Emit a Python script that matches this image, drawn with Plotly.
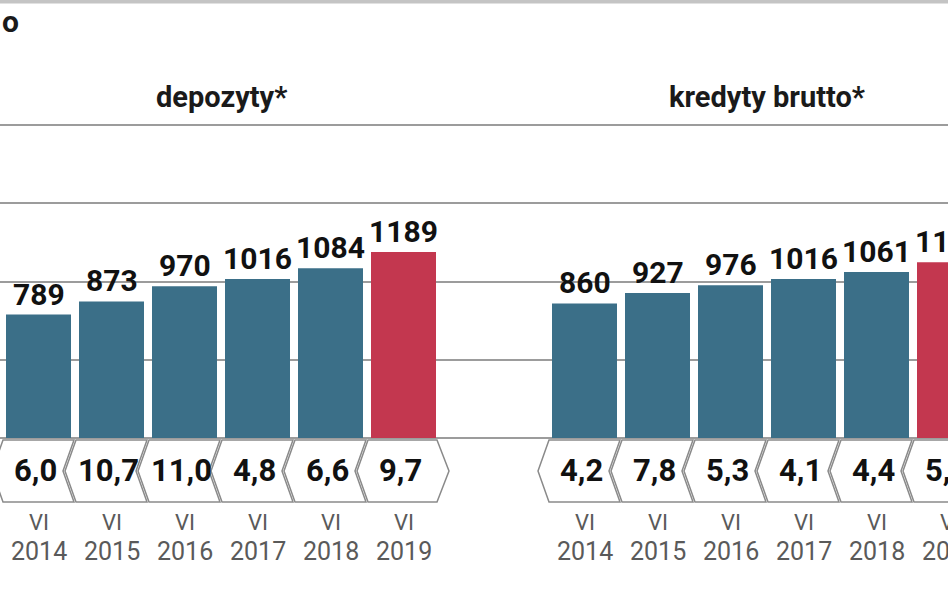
import plotly.graph_objects as go

# ---- data ----
years = ["2014", "2015", "2016", "2017", "2018", "2019"]
month = "VI"
deposits = [789, 873, 970, 1016, 1084, 1189]
deposits_growth = ["6,0", "10,7", "11,0", "4,8", "6,6", "9,7"]
loans = [860, 927, 976, 1016, 1061, 1123]
loans_growth = ["4,2", "7,8", "5,3", "4,1", "4,4", "5,8"]
titles = ["depozyty*", "kredyty brutto*"]
partial_title = "o"

# ---- layout geometry (pixel based) ----
W, H = 948, 593
BASE_PX = 438          # pixel row of value 0
TOP_PX = 125           # pixel row of value 2000
SCALE = (BASE_PX - TOP_PX) / 2000.0
PITCH = 73
BAR_W = 65
GROUP_START = [38.5, 584.5]

BLUE = "#3b6f88"
RED = "#c3374f"
GRID = "#9c9c9c"
FONT = "Roboto, Liberation Sans, DejaVu Sans, sans-serif"

ymax = BASE_PX / SCALE
ymin = -(H - BASE_PX) / SCALE


def py(p):
    return 1 - p / H


def px(p):
    return p / W


fig = go.Figure()
shapes = []
annotations = []

groups = [(deposits, deposits_growth), (loans, loans_growth)]
for gi, (vals, growth) in enumerate(groups):
    n = len(vals)
    xs = [GROUP_START[gi] + PITCH * k for k in range(n)]
    colors = [BLUE] * (n - 1) + [RED]
    fig.add_trace(go.Bar(
        x=xs, y=vals, width=BAR_W,
        marker=dict(color=colors, line=dict(width=0)),
        hoverinfo="skip",
    ))
    # value labels
    for c, v in zip(xs, vals):
        annotations.append(dict(
            x=px(c), y=v, xref="paper", yref="y", text=str(v),
            showarrow=False, xanchor="center", yanchor="bottom", yshift=1,
            font=dict(family=FONT, size=30, color="#111111", weight=700)))
    # group title
    annotations.append(dict(
        x=px((xs[0] + xs[-1]) / 2), y=py(97), xref="paper", yref="paper",
        text=titles[gi], showarrow=False,
        font=dict(family=FONT, size=29, color="#1a1a1a", weight=700),
        xanchor="center", yanchor="middle"))
    # growth boxes
    yt, yb, ym = py(440), py(502), py(471)
    d = 11
    for k, c in enumerate(xs):
        L, R = c - 35.5, c + 35.5
        if k == n - 1:
            right = f"L{R - 2},{yt} L{R + 10},{ym} L{R - 2},{yb}"
        else:
            right = f"L{R},{yt} L{R - d},{ym} L{R},{yb}"
        path = f"M{L},{yt} {right} L{L},{yb} L{L - d},{ym} Z"
        shapes.append(dict(type="path", path=path, xref="x", yref="paper",
                           line=dict(color="#8a8a8a", width=1.5),
                           fillcolor="white", layer="above"))
        annotations.append(dict(
            x=px(c - 3), y=ym, xref="paper", yref="paper", text=growth[k],
            showarrow=False, xanchor="center", yanchor="middle",
            font=dict(family=FONT, size=31, color="#111111", weight=700)))
        annotations.append(dict(
            x=px(c), y=py(522), xref="paper", yref="paper", text=month,
            showarrow=False, xanchor="center", yanchor="middle",
            font=dict(family=FONT, size=22, color="#5a5a5a")))
        annotations.append(dict(
            x=px(c), y=py(551), xref="paper", yref="paper", text=years[k],
            showarrow=False, xanchor="center", yanchor="middle",
            font=dict(family=FONT, size=25, color="#5a5a5a")))

# top decorative line and partial title
shapes.append(dict(type="line", xref="paper", yref="paper", x0=0, x1=1,
                   y0=py(1.5), y1=py(1.5), line=dict(color="#c4c4c4", width=4)))
annotations.append(dict(x=0, y=py(21), xref="paper", yref="paper",
                        text=partial_title, showarrow=False,
                        xanchor="left", yanchor="middle",
                        font=dict(family=FONT, size=30, color="#1a1a1a", weight=700)))

fig.update_layout(
    width=W, height=H, margin=dict(l=0, r=0, t=0, b=0),
    paper_bgcolor="white", plot_bgcolor="white", showlegend=False,
    barmode="overlay",
    xaxis=dict(range=[0, W], visible=False, fixedrange=True),
    yaxis=dict(range=[ymin, ymax], tickvals=[0, 500, 1000, 1500, 2000],
               showticklabels=False, showgrid=True, gridcolor=GRID,
               gridwidth=2, zeroline=False, showline=False, fixedrange=True),
    shapes=shapes, annotations=annotations,
)

fig.write_html("out.html")
